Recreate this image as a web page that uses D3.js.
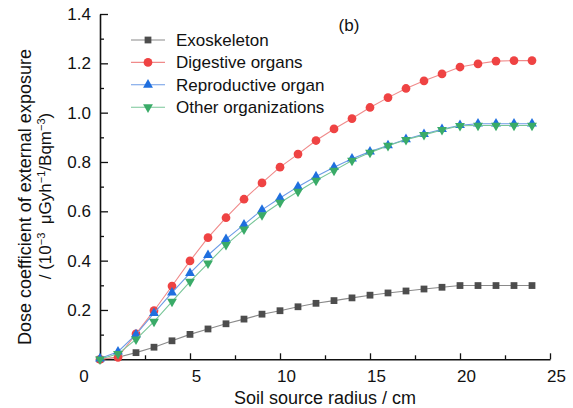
<!DOCTYPE html>
<html>
<head>
<meta charset="utf-8">
<script src="https://cdn.jsdelivr.net/npm/d3@7"></script>
<style>
    body { margin: 0; background: #fff; }
    text { font-family: Arial, "Liberation Sans", sans-serif; fill: #111; }
</style>
</head>
<body>
<div id="plot"></div>
<script>
var width = 573;
var height = 408;

// soil source radius (cm)
var radius = [0, 1, 2, 3, 4, 5, 6, 7, 8, 9, 10, 11, 12, 13, 14, 15, 16, 17, 18, 19, 20, 21, 22, 23, 24];

var exoskeleton = [0, 0.008, 0.027, 0.049, 0.075, 0.101, 0.123, 0.144, 0.163, 0.183, 0.197, 0.213, 0.227,
    0.238, 0.249, 0.260, 0.269, 0.277, 0.285, 0.292, 0.299, 0.299, 0.299, 0.299, 0.299];
var digestive = [0, 0.008, 0.103, 0.197, 0.297, 0.399, 0.493, 0.574, 0.649, 0.715, 0.779, 0.832, 0.887,
    0.934, 0.976, 1.021, 1.061, 1.098, 1.129, 1.157, 1.185, 1.198, 1.209, 1.211, 1.211];
var reproductive = [0.003, 0.031, 0.101, 0.187, 0.270, 0.349, 0.422, 0.487, 0.546, 0.606, 0.654, 0.700, 0.741,
    0.779, 0.813, 0.842, 0.867, 0.892, 0.913, 0.933, 0.949, 0.955, 0.955, 0.955, 0.955];
var others = [0, 0.022, 0.081, 0.153, 0.234, 0.315, 0.389, 0.464, 0.527, 0.585, 0.635, 0.680, 0.725,
    0.765, 0.806, 0.838, 0.866, 0.890, 0.910, 0.930, 0.947, 0.948, 0.948, 0.948, 0.948];

var names = ['Exoskeleton', 'Digestive organs', 'Reproductive organ', 'Other organizations'];

var x_ticks = [5, 10, 15, 20, 25];
var y_ticks = [0.2, 0.4, 0.6, 0.8, 1.0, 1.2, 1.4];

var series = [
    { name: names[0], values: exoskeleton, shape: d3.symbolSquare, size: 46, rot: 0, fill: '#4d4d4d', line: '#8a8a8a' },
    { name: names[1], values: digestive, shape: d3.symbolCircle, size: 60, rot: 0, fill: '#ef4343', line: '#f08a8a' },
    { name: names[2], values: reproductive, shape: d3.symbolTriangle, size: 42, rot: 0, fill: '#1f6fdf', line: '#6c9be6' },
    { name: names[3], values: others, shape: d3.symbolTriangle, size: 42, rot: 180, fill: '#3aab68', line: '#78c698' }
];

var canvas = d3.select('#plot')
                .append('svg')
                .attr('width', width)
                .attr('height', height);

var x_scale = d3.scaleLinear()
                .domain([0, 25])
                .range([100, 550]);

var y_scale = d3.scaleLinear()
                .domain([0, 1.4])
                .range([359.3, 14]);

// minor ticks first, then major axis on top
canvas.append('g')
    .attr('transform', 'translate(0,359.3)')
    .call(d3.axisBottom(x_scale).tickValues([2.5, 7.5, 12.5, 17.5, 22.5]).tickSize(-4).tickFormat(''))
    .call(g => g.select('.domain').remove());

canvas.append('g')
    .attr('transform', 'translate(100,0)')
    .call(d3.axisLeft(y_scale).tickValues([0.1, 0.3, 0.5, 0.7, 0.9, 1.1, 1.3]).tickSize(-4).tickFormat(''))
    .call(g => g.select('.domain').remove());

var x_axis = canvas.append('g')
    .attr('transform', 'translate(0,359.3)')
    .call(d3.axisBottom(x_scale).tickValues(x_ticks).tickSize(-6).tickSizeOuter(0).tickPadding(11).tickFormat(d3.format('d')));

var y_axis = canvas.append('g')
    .attr('transform', 'translate(100,0)')
    .call(d3.axisLeft(y_scale).tickValues(y_ticks).tickSize(-8).tickSizeOuter(0).tickPadding(9).tickFormat(d3.format('.1f')));

canvas.selectAll('.tick line').attr('stroke', '#111').attr('stroke-width', 1.3);
canvas.selectAll('.domain').attr('stroke', '#111').attr('stroke-width', 1.6);
x_axis.selectAll('text').attr('dx', 6);
canvas.selectAll('.tick text')
    .style('font-size', '17px')
    .style('font-family', 'Arial, "Liberation Sans", sans-serif')
    .attr('fill', '#111');

// origin label
canvas.append('text')
    .attr('x', 84)
    .attr('y', 382)
    .attr('text-anchor', 'middle')
    .style('font-size', '17px')
    .text('0');

// axis titles
canvas.append('text')
    .attr('x', 325)
    .attr('y', 404)
    .attr('text-anchor', 'middle')
    .style('font-size', '18px')
    .text('Soil source radius / cm');

canvas.append('text')
    .attr('transform', 'translate(31,197) rotate(-90)')
    .attr('text-anchor', 'middle')
    .style('font-size', '18px')
    .text('Dose coefficient of external exposure');

var unit = canvas.append('text')
    .attr('transform', 'translate(51,196) rotate(-90)')
    .attr('text-anchor', 'middle')
    .style('font-size', '17px');
unit.append('tspan').text('/ (10');
unit.append('tspan').attr('dy', -6).style('font-size', '11px').text('\u22123');
unit.append('tspan').attr('dy', 6).text('\u2002\u03bcGyh');
unit.append('tspan').attr('dy', -6).style('font-size', '11px').text('\u22121');
unit.append('tspan').attr('dy', 6).text('/Bqm');
unit.append('tspan').attr('dy', -6).style('font-size', '11px').text('\u22123');
unit.append('tspan').attr('dy', 6).text(')');

canvas.append('text')
    .attr('x', 349)
    .attr('y', 31)
    .attr('text-anchor', 'middle')
    .style('font-size', '17px')
    .text('(b)');

// series
var line = d3.line()
    .x(function(d, i) { return x_scale(radius[i]); })
    .y(function(d) { return y_scale(d); });

series.forEach(function(s) {
    canvas.append('path')
        .datum(s.values)
        .attr('d', line)
        .attr('fill', 'none')
        .attr('stroke', s.line)
        .attr('stroke-width', 1.1);

    canvas.selectAll(null)
        .data(s.values)
        .enter()
        .append('path')
        .attr('d', d3.symbol().type(s.shape).size(s.size))
        .attr('transform', function(d, i) {
            return 'translate(' + x_scale(radius[i]) + ',' + y_scale(d) + ') rotate(' + s.rot + ')';
        })
        .attr('fill', s.fill);
});

// legend
var legend = canvas.append('g')
    .attr('transform', 'translate(131,40)');

series.forEach(function(s, i) {
    var row = legend.append('g').attr('transform', 'translate(0,' + (i * 22.4) + ')');
    row.append('line')
        .attr('x1', 0).attr('x2', 34)
        .attr('stroke', s.line)
        .attr('stroke-width', 1.1);
    row.append('path')
        .attr('d', d3.symbol().type(s.shape).size(s.size))
        .attr('transform', 'translate(17,0) rotate(' + s.rot + ')')
        .attr('fill', s.fill);
    row.append('text')
        .attr('x', 45)
        .attr('dy', '0.35em')
        .style('font-size', '17px')
        .text(s.name);
});
</script>
</body>
</html>
